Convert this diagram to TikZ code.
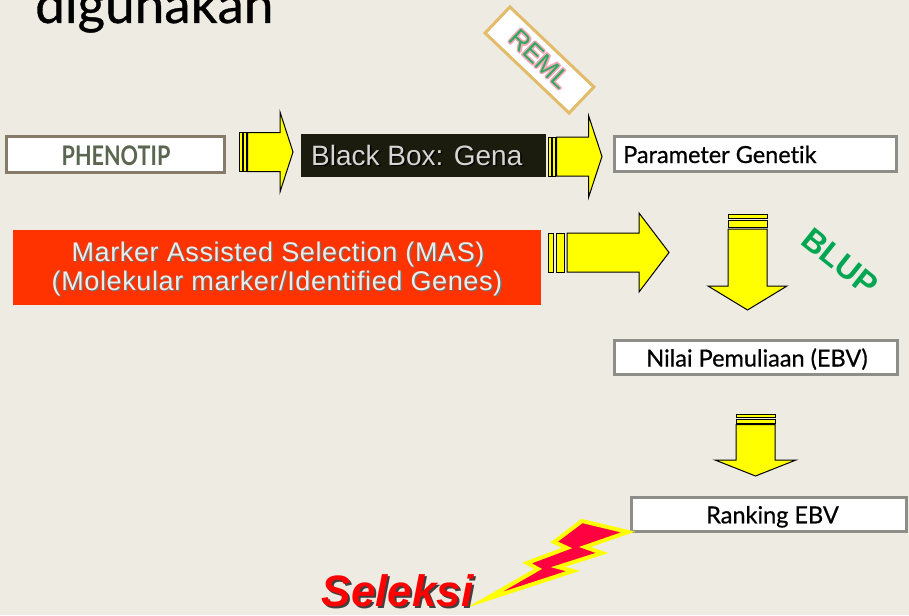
\documentclass[tikz,border=0pt]{standalone}
\usepackage{fontspec}
\setmainfont{Liberation Sans}
\newfontfamily\latofont{Lato}
\newfontfamily\labelfont[FakeBold=0.6,Ligatures=NoCommon]{Lato}
\newfontfamily\phenofont[FakeStretch=0.8]{Lato}
\newfontfamily\masfont[LetterSpace=2.3]{Liberation Sans}
\definecolor{bg}{HTML}{EEEBE3}
\definecolor{boxgray}{HTML}{8E8E88}
\definecolor{phenoborder}{HTML}{857B68}
\definecolor{phenotext}{HTML}{5A6650}
\definecolor{blackbox}{HTML}{1C1C0E}
\definecolor{bbtext}{HTML}{D6D6D2}
\definecolor{masred}{HTML}{FF3300}
\definecolor{mastext}{HTML}{ECECEA}
\definecolor{arrowyellow}{HTML}{FFFF00}
\definecolor{remlborder}{HTML}{E2BC6A}
\definecolor{remlgreen}{HTML}{2EAA5E}
\definecolor{remlpink}{HTML}{F6A6B8}
\definecolor{blupgreen}{HTML}{00A651}
\definecolor{boltred}{HTML}{FF0040}
\begin{document}
\begin{tikzpicture}[x=1pt,y=-1pt,
  whitebox/.style={draw=boxgray, line width=3pt, fill=white, inner sep=0pt},
  blockarrow/.style={fill=arrowyellow, draw=black, line width=1pt, line join=miter},
  boxlabel/.style={inner sep=0pt, font=\labelfont\fontsize{23.5}{26}\selectfont, text=black},
  masline/.style={inner sep=0pt, anchor=base, font=\masfont\fontsize{27}{30}\selectfont},
  remltext/.style={inner sep=0pt, rotate=-43.6, font=\fontsize{26}{28}\selectfont},
]
\useasboundingbox (0,0) rectangle (909,615);
\fill[bg] (0,0) rectangle (909,615);
\clip (0,0) rectangle (909,615);

% heading, cut off at the top edge
\node[anchor=base west, inner sep=0pt, font=\labelfont\fontsize{53}{56}\selectfont] (title) at (35,23) {digunakan};

% ---- top row ----
\node[draw=phenoborder, line width=3pt, fill=white, minimum width=218, minimum height=36, inner sep=0pt] (pheno) at (115.5,154.5) {};
\node[inner sep=0pt, font=\phenofont\bfseries\fontsize{27}{29}\selectfont, text=phenotext, anchor=base] (phenolabel) at (116,165) {PHENOTIP};

% striped arrow: phenotype -> black box
\draw[blockarrow] (239,132.5) rectangle (242.3,171.5);
\draw[blockarrow] (243.3,132.5) rectangle (246.7,171.5);
\draw[blockarrow] (247.7,132.5) -- (280,132.5) -- (280,112) -- (293,152) -- (280,192) -- (280,171.5) -- (247.7,171.5) -- cycle;

\node[fill=blackbox, minimum width=245, minimum height=43, inner sep=0pt] (bb) at (423.5,155.5) {};
\node[inner sep=0pt, anchor=base west, font=\fontsize{28}{30}\selectfont, text=black] (bbshadow) at (312.5,166.5) {Black Box: Gena};
\node[inner sep=0pt, anchor=base west, font=\fontsize{28}{30}\selectfont, text=bbtext] (bblabel) at (311,165) {Black Box: Gena};

% striped arrow: black box -> genetic parameters
\draw[blockarrow] (548,137) rectangle (551.3,176);
\draw[blockarrow] (552.3,137) rectangle (555.7,176);
\draw[blockarrow] (556.7,137) -- (588.5,137) -- (588.5,115.5) -- (602,156.5) -- (588.5,197.5) -- (588.5,176) -- (556.7,176) -- cycle;

% REML tag with a soft pink halo round the letters
\node[draw=remlborder, line width=3pt, fill=white, minimum width=116, minimum height=36, inner sep=0pt, rotate=-43.6] (reml) at (539.5,60) {};
\foreach \dx/\dy [count=\k] in {1.5/0,-1.5/0,0/1.5,0/-1.5,1.1/1.1,-1.1/-1.1,1.1/-1.1,-1.1/1.1}
  \node[remltext, text=remlpink] (remlglow\k) at ({540+\dx},{59+\dy}) {REML};
\node[remltext, text=remlgreen] (remllabel) at (540,59) {REML};

\node[whitebox, minimum width=282, minimum height=35] (param) at (755.5,154) {};
\node[boxlabel, anchor=base west] (paramlabel) at (623,163) {Parameter Genetik};

% ---- MAS row ----
\node[fill=masred, minimum width=528, minimum height=75, inner sep=0pt] (mas) at (277,267.5) {};
\node[masline, text=black!55] (mas1s) at (279.3,262.3) {Marker Assisted Selection (MAS)};
\node[masline, text=mastext] (mas1) at (278,261) {Marker Assisted Selection (MAS)};
\node[masline, text=black!55] (mas2s) at (278.3,291.3) {(Molekular marker/Identified Genes)};
\node[masline, text=mastext] (mas2) at (277,290) {(Molekular marker/Identified Genes)};

% striped arrow: MAS -> down
\draw[blockarrow] (548,233) rectangle (553,272);
\draw[blockarrow] (556,233) rectangle (564,272);
\draw[blockarrow] (567,233) -- (639,233) -- (639,213) -- (669,252.5) -- (639,292) -- (639,272) -- (567,272) -- cycle;

% striped arrow down: BLUP
\draw[blockarrow] (728,214) rectangle (767,218);
\draw[blockarrow] (728,220) rectangle (767,227);
\draw[blockarrow] (728,229) -- (767,229) -- (767,286) -- (787,286) -- (747.5,310) -- (708,286) -- (728,286) -- cycle;
\node[inner sep=0pt, rotate=-38.6, font=\bfseries\fontsize{32}{34}\selectfont, text=blupgreen] (blup) at (840,262) {BLUP};

\node[whitebox, minimum width=283, minimum height=34] (ebv) at (756,357.5) {};
\node[boxlabel, anchor=base] (ebvlabel) at (757,366.5) {Nilai Pemuliaan (EBV)};

% striped arrow down: EBV -> ranking
\draw[blockarrow] (736,414) rectangle (775,417);
\draw[blockarrow] (736,419) rectangle (775,423);
\draw[blockarrow] (736,424.5) -- (775,424.5) -- (775,460) -- (796,460) -- (755.5,476) -- (715,460) -- (736,460) -- cycle;

\node[whitebox, minimum width=275, minimum height=34] (rank) at (768.5,514.5) {};
\node[boxlabel, anchor=base] (ranklabel) at (772.5,523.3) {Ranking EBV};

% lightning bolt
\draw[fill=boltred, draw=arrowyellow, line width=4pt, line join=miter, miter limit=20]
  (582,521) -- (628,532) -- (585,547) -- (602,553) -- (558,567) -- (573,571) -- (484,600)
  -- (538,569) -- (527,563) -- (567,548) -- (554,542) -- cycle;

\node[inner sep=0pt, anchor=base, font=\bfseries\itshape\fontsize{44}{46}\selectfont, text=black!75] (selshadow) at (399.5,608.5) {Seleksi};
\node[inner sep=0pt, anchor=base, font=\bfseries\itshape\fontsize{44}{46}\selectfont, text=red] (seleksi) at (397.5,606) {Seleksi};
\end{tikzpicture}
\end{document}
